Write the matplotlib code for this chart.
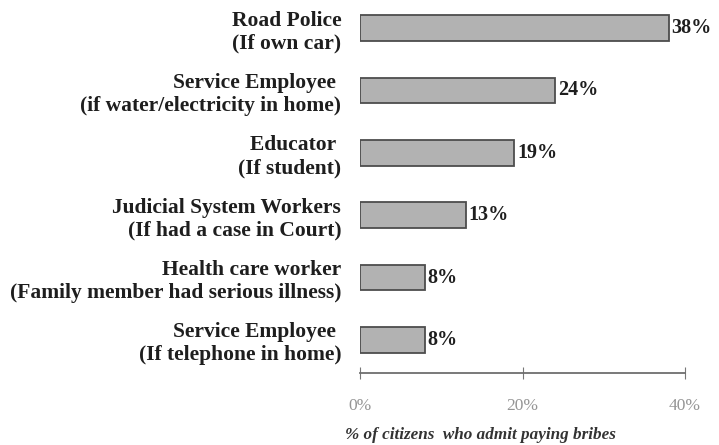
import matplotlib.pyplot as plt
from matplotlib.ticker import FuncFormatter

categories = [
    'Road Police\n(If own car)',
    'Service Employee \n(if water/electricity in home)',
    'Educator \n(If student)',
    'Judicial System Workers\n(If had a case in Court)',
    'Health care worker\n(Family member had serious illness)',
    'Service Employee \n(If telephone in home)',
]
shares = [38, 24, 19, 13, 8, 8]
x_ticks = [0, 20, 40]

serif = ['Liberation Serif', 'DejaVu Serif']

fig = plt.figure(figsize=(7.19, 4.45), dpi=100)
ax = fig.add_axes([360 / 719, 1 - 373 / 445, 325 / 719, 373 / 445])

rows = list(range(len(categories)))
ax.barh(rows, shares, height=0.41, color='#b2b2b2', edgecolor='#4d4d4d', linewidth=1.3)

for r, v in zip(rows, shares):
    ax.text(v + 0.35, r, f'{v}%', va='center', ha='left', fontsize=14.5,
            fontweight='bold', family=serif, color='#1e1e1e')

ax.set_xlim(0, 40)
ax.set_ylim(5.53, -0.45)
ax.set_yticks(rows)
ax.set_yticklabels(categories, family=serif, fontweight='bold', fontsize=15.5,
                   color='#1e1e1e', linespacing=1.2)
ax.tick_params(axis='y', length=0, pad=13.5)

ax.set_xticks(x_ticks)
ax.xaxis.set_major_formatter(FuncFormatter(lambda v, p: f'{v:.0f}%'))
ax.tick_params(axis='x', direction='inout', length=8, color='#777777', pad=14,
               labelsize=12.5, labelcolor='#959595')
for lab in ax.get_xticklabels():
    lab.set_family(serif)

for s in ['top', 'right', 'left']:
    ax.spines[s].set_visible(False)
ax.spines['bottom'].set_color('#6e6e6e')
ax.spines['bottom'].set_linewidth(1.3)

fig.text(345 / 719, 1 - 435 / 445, '% of citizens  who admit paying bribes',
         fontsize=12.3, fontweight='bold', fontstyle='italic', family=serif,
         color='#333333', va='center', ha='left')

fig.savefig('out.png', dpi=100)
